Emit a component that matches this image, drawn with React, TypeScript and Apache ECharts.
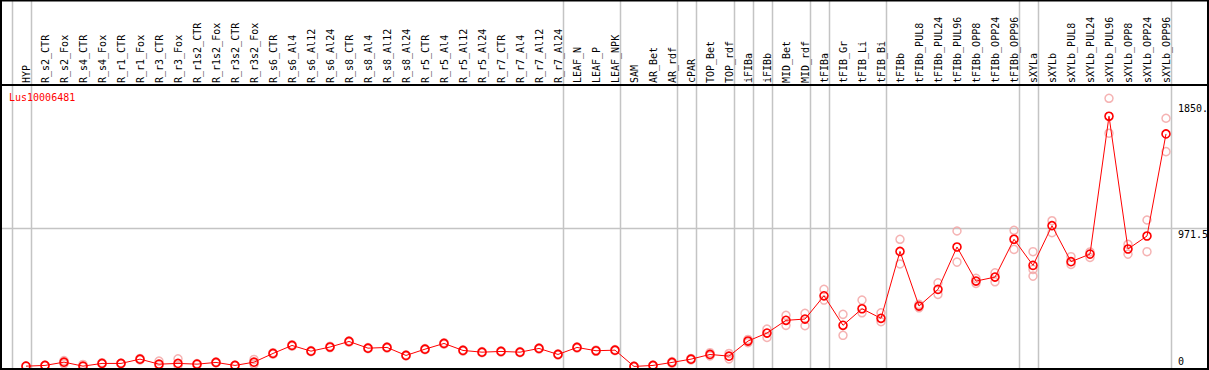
import React, { useEffect, useRef } from "react";
import * as echarts from "echarts";

const categories = [
  "HYP", "R_s2_CTR", "R_s2_Fox", "R_s4_CTR", "R_s4_Fox", "R_r1_CTR", "R_r1_Fox", "R_r3_CTR", "R_r3_Fox",
  "R_r1s2_CTR", "R_r1s2_Fox", "R_r3s2_CTR", "R_r3s2_Fox", "R_s6_CTR", "R_s6_Al4", "R_s6_Al12", "R_s6_Al24",
  "R_s8_CTR", "R_s8_Al4", "R_s8_Al12", "R_s8_Al24", "R_r5_CTR", "R_r5_Al4", "R_r5_Al12", "R_r5_Al24",
  "R_r7_CTR", "R_r7_Al4", "R_r7_Al12", "R_r7_Al24", "LEAF_N", "LEAF_P", "LEAF_NPK", "SAM", "AR_Bet", "AR_rdf",
  "cPAR", "TOP_Bet", "TOP_rdf", "iFIBa", "iFIBb", "MID_Bet", "MID_rdf", "tFIBa", "tFIB_Gr", "tFIB_Li", "tFIB_Bi",
  "tFIBb", "tFIBb_PUL8", "tFIBb_PUL24", "tFIBb_PUL96", "tFIBb_OPP8", "tFIBb_OPP24", "tFIBb_OPP96", "sXYLa",
  "sXYLb", "sXYLb_PUL8", "sXYLb_PUL24", "sXYLb_PUL96", "sXYLb_OPP8", "sXYLb_OPP24", "sXYLb_OPP96",
];

const meanValues = [
  6, 11, 34, 6, 25, 25, 55, 20, 25, 20, 32, 11, 34, 95, 151, 111, 140, 179, 132, 137, 81, 125, 165, 116, 104,
  109, 104, 130, 88, 137, 114, 118, 4, 11, 32, 55, 88, 76, 182, 238, 327, 336, 499, 292, 408, 341, 810, 427,
  544, 841, 602, 630, 895, 712, 990, 738, 791, 1757, 827, 918, 1633,
];

const replicateA = [
  8, 13, 45, 18, 30, 28, 60, 41, 57, 24, 36, 14, 53, 100, 156, 115, 145, 184, 136, 141, 85, 129, 170, 120, 108,
  113, 108, 134, 92, 141, 118, 122, 6, 14, 38, 60, 100, 95, 193, 266, 362, 376, 544, 369, 469, 380, 895, 439,
  590, 953, 621, 660, 958, 808, 1025, 773, 806, 1883, 860, 1030, 1743,
];

const replicateB = [
  4, 9, 22, 2, 22, 22, 50, 12, 10, 16, 28, 8, 20, 90, 146, 107, 135, 174, 128, 133, 77, 121, 160, 112, 100,
  105, 100, 126, 84, 133, 110, 114, 2, 8, 26, 50, 78, 57, 171, 207, 292, 289, 469, 222, 380, 317, 722, 415,
  509, 735, 586, 597, 824, 637, 941, 719, 768, 1638, 791, 808, 1509,
];

const extraReplicates: [string, number][] = [["sXYLa", 684]];

const yTickValues = [0, 971.5, 1850];
const yTickLabels = ["0", "971.5", "1850."];
const gridLineValues = [971.5];

const dividerAfter = [
  "", "HYP", "R_r7_Al24", "LEAF_NPK", "AR_rdf", "cPAR", "TOP_rdf", "iFIBa", "iFIBb", "MID_rdf", "tFIBa",
  "tFIB_Bi", "tFIBb_OPP96", "sXYLa", "sXYLb_OPP96",
];

const geneName = "Lus10006481";
const Y_MAX = 1976;

const W = 1209;
const H = 370;
const FONT = "DejaVu Sans Mono";

export default function App() {
  const ref = useRef<HTMLDivElement>(null);

  useEffect(() => {
    if (!ref.current) return;
    const chart = echarts.init(ref.current, null, { renderer: "svg" });

    const repData: [number, number][] = [];
    categories.forEach((_, i) => {
      repData.push([i, replicateA[i]]);
      repData.push([i, replicateB[i]]);
    });
    extraReplicates.forEach(([c, v]) => repData.push([categories.indexOf(c), v]));

    chart.setOption({
      animation: false,
      grid: { left: 26, right: 43, top: 85, bottom: 3, containLabel: false },
      xAxis: {
        type: "category",
        data: categories,
        boundaryGap: false,
        position: "top",
        axisLine: { show: false },
        axisTick: { show: false },
        splitLine: { show: false },
        axisLabel: {
          rotate: 90,
          interval: 0,
          margin: 2,
          fontFamily: FONT,
          fontSize: 10,
          color: "#000",
        },
      },
      yAxis: {
        type: "value",
        min: 0,
        max: Y_MAX,
        show: false,
        splitLine: { show: false },
      },
      series: [
        {
          type: "scatter",
          data: repData,
          symbol: "circle",
          symbolSize: 8,
          z: 1,
          itemStyle: { color: "rgba(0,0,0,0)", borderColor: "#f2a0a0", borderWidth: 1.5 },
        },
        {
          type: "line",
          data: meanValues,
          symbol: "circle",
          symbolSize: 8,
          showSymbol: true,
          z: 3,
          lineStyle: { color: "#ff0000", width: 1 },
          itemStyle: { color: "rgba(0,0,0,0)", borderColor: "#ff0000", borderWidth: 1.6 },
        },
      ],
    });

    const px = (i: number) => chart.convertToPixel({ xAxisIndex: 0 }, i) as number;
    const py = (v: number) => chart.convertToPixel({ yAxisIndex: 0 }, v) as number;
    const step = px(1) - px(0);

    const elements: any[] = [];
    dividerAfter.forEach((name) => {
      const idx = name === "" ? -1 : categories.indexOf(name);
      const x = Math.round(px(0) + (idx + 0.25) * step) + 0.5;
      elements.push({
        type: "line",
        z: 0,
        silent: true,
        shape: { x1: x, y1: 0, x2: x, y2: 369 },
        style: { stroke: "#c4c4c4", lineWidth: 1.5 },
      });
    });
    gridLineValues.forEach((v) => {
      const y = Math.round(py(v)) + 0.5;
      elements.push({
        type: "line",
        z: 0,
        silent: true,
        shape: { x1: 1, y1: y, x2: 1208, y2: y },
        style: { stroke: "#c4c4c4", lineWidth: 1.5 },
      });
    });
    yTickValues.forEach((v, k) => {
      const y = py(v);
      const atBottom = v === 0;
      elements.push({
        type: "text",
        z: 10,
        silent: true,
        style: {
          x: 1178,
          y: atBottom ? y - 1 : y + 1,
          text: yTickLabels[k],
          font: `10px ${FONT}`,
          fill: "#000",
          align: "left",
          verticalAlign: atBottom ? "bottom" : "top",
          textAlign: "left",
          textVerticalAlign: atBottom ? "bottom" : "top",
        },
      });
    });
    elements.push({
      type: "text",
      z: 10,
      silent: true,
      style: {
        x: 9,
        y: 92,
        text: geneName,
        font: `10px ${FONT}`,
        fill: "#ff0000",
        align: "left",
        verticalAlign: "top",
        textAlign: "left",
        textVerticalAlign: "top",
      },
    });
    elements.push({
      type: "line",
      z: 10,
      silent: true,
      shape: { x1: 1, y1: 85, x2: 1208, y2: 85 },
      style: { stroke: "#000", lineWidth: 2 },
    });
    elements.push({
      type: "rect",
      z: 10,
      silent: true,
      shape: { x: 1, y: 0.5, width: 1207, height: 368.5 },
      style: { fill: "none", stroke: "#000", lineWidth: 2 },
    });

    chart.setOption({ graphic: { elements } });

    return () => chart.dispose();
  }, []);

  return (
    <div
      ref={ref}
      style={{ position: "fixed", left: 0, top: 0, width: W, height: H, background: "#fff" }}
    />
  );
}
